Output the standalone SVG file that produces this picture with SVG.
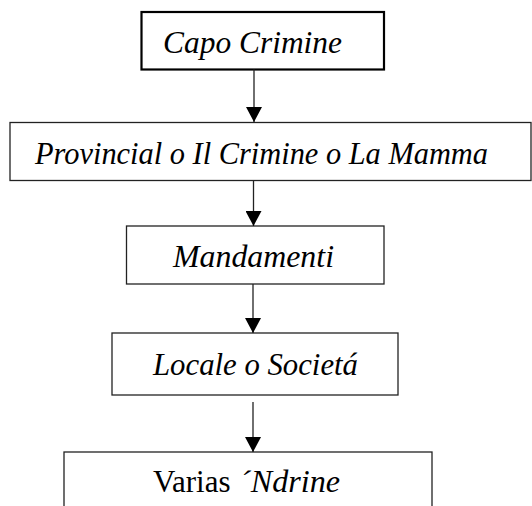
<svg xmlns="http://www.w3.org/2000/svg" width="532" height="506" viewBox="0 0 532 506">
<defs>
<style>
.box{fill:#fff;stroke:#222;stroke-width:1.3}
.bold{stroke:#000;stroke-width:2.2}
.conn{stroke:#222;stroke-width:1.3;fill:none}
</style>
<marker id="arr" viewBox="0 0 15 16" refX="15" refY="8" markerWidth="15" markerHeight="16" markerUnits="userSpaceOnUse" orient="auto">
<path d="M0 0 L15 8 L0 16 Z" fill="#000"/>
</marker>
</defs>
<rect width="532" height="506" fill="#fff"/>
<g font-family="Liberation Serif, DejaVu Serif, serif" font-size="31" font-style="italic" fill="#000">
<g id="capo">
<rect class="box bold" x="141.5" y="12" width="242.5" height="57.5"/>
<text x="163" y="53" textLength="179" lengthAdjust="spacingAndGlyphs">Capo Crimine</text>
</g>
<g id="provincial">
<rect class="box" x="10" y="122.5" width="521" height="58"/>
<text x="35" y="164" textLength="453" lengthAdjust="spacingAndGlyphs">Provincial o Il Crimine o La Mamma</text>
</g>
<g id="mandamenti">
<rect class="box" x="126.5" y="226" width="257.5" height="58"/>
<text x="173" y="267" textLength="161" lengthAdjust="spacingAndGlyphs">Mandamenti</text>
</g>
<g id="locale">
<rect class="box" x="112" y="333" width="286" height="62"/>
<text x="153" y="375" textLength="205" lengthAdjust="spacingAndGlyphs">Locale o Societá</text>
</g>
<g id="varias">
<rect class="box" x="64" y="452" width="368" height="100"/>
<text x="153" y="492" font-style="normal">Varias</text>
<text x="240" y="492" textLength="100" lengthAdjust="spacingAndGlyphs">´Ndrine</text>
</g>
</g>
<g id="connectors">
<line class="conn" x1="254" y1="69.5" x2="254" y2="122" marker-end="url(#arr)"/>
<line class="conn" x1="253.5" y1="180.5" x2="253.5" y2="226" marker-end="url(#arr)"/>
<line class="conn" x1="253" y1="284" x2="253" y2="333" marker-end="url(#arr)"/>
<line class="conn" x1="253" y1="402" x2="253" y2="452" marker-end="url(#arr)"/>
</g>
</svg>
